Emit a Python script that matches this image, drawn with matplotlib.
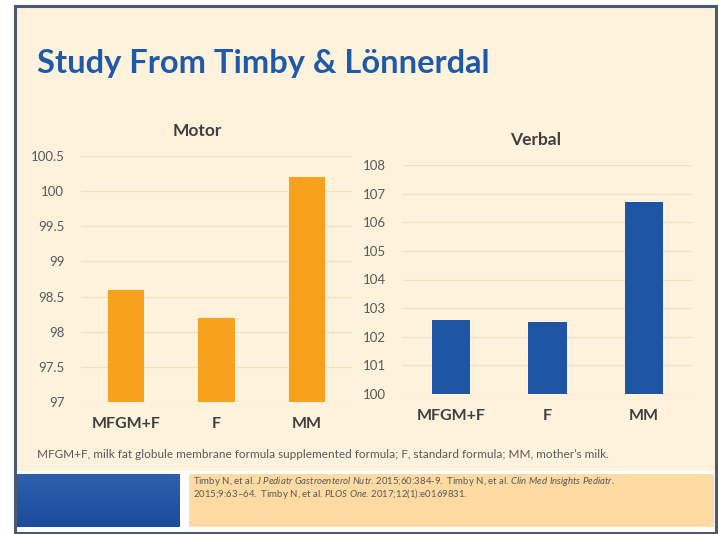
import matplotlib.pyplot as plt
from matplotlib.patches import Rectangle
from matplotlib.colors import LinearSegmentedColormap
import numpy as np

categories = ["MFGM+F", "F", "MM"]
motor_scores = [98.6, 98.2, 100.2]
verbal_scores = [102.6, 102.5, 106.7]
motor_ticks = [97, 97.5, 98, 98.5, 99, 99.5, 100, 100.5]
verbal_ticks = [100, 101, 102, 103, 104, 105, 106, 107, 108]

SLIDE_BG = "#FEF2DC"
FOOT_BG = "#FDDBA2"
ORANGE = "#F7A11C"
BLUE = "#1F56A3"
TITLE_BLUE = "#1F5AA8"
TEXT_GRAY = "#595959"
LABEL_DARK = "#404040"
GRID = "#EFE1C4"
FONT = ["Lato", "DejaVu Sans"]

plt.rcParams["mathtext.fontset"] = "custom"
plt.rcParams["mathtext.it"] = "Lato:italic"
plt.rcParams["mathtext.rm"] = "Lato"

W, H = 718, 534
fig = plt.figure(figsize=(W / 100, H / 100), dpi=100, facecolor="white")


def px_box(x0, y0, x1, y1):
    """pixel box (top-left origin) -> figure fraction [l, b, w, h]"""
    return [x0 / W, (H - y1) / H, (x1 - x0) / W, (y1 - y0) / H]


bg = fig.add_axes([0, 0, 1, 1])
bg.set_xlim(0, W)
bg.set_ylim(H, 0)
bg.axis("off")

# slide body, footer strip and frame
bg.add_patch(Rectangle((14, 6), 701, 465, facecolor=SLIDE_BG, edgecolor="none"))
bg.add_patch(Rectangle((14, 471), 701, 61, facecolor="white", edgecolor="none"))
grad = np.linspace(0, 1, 64).reshape(-1, 1)
bg.imshow(grad, extent=(16, 180, 527, 474),
          cmap=LinearSegmentedColormap.from_list("footblue", ["#2E60AE", "#1B4C9C"]),
          aspect="auto", zorder=1)
bg.add_patch(Rectangle((189, 474), 525, 53, facecolor=FOOT_BG, edgecolor="none"))
bg.add_patch(Rectangle((14.5, 6), 701, 526.5, facecolor="none", edgecolor="#4B5A70", linewidth=2.2))

bg.text(37, 63, "Study From Timby & Lönnerdal", fontsize=23.5, fontweight="bold",
        color=TITLE_BLUE, family=FONT, va="center", ha="left")

bg.text(37, 455, "MFGM+F, milk fat globule membrane formula supplemented formula; F, standard formula; MM, mother\u2019s milk.",
        fontsize=8.5, color=TEXT_GRAY, family=FONT, va="center", ha="left")

bg.text(193, 481, "Timby N, et al. $J\\ Pediatr\\ Gastroenterol\\ Nutr$. 2015;60:384-9.  Timby N, et al. "
        "$Clin\\ Med\\ Insights\\ Pediatr$.",
        fontsize=6.9, color=TEXT_GRAY, family=FONT, va="center", ha="left")
bg.text(193, 494, "2015;9:63\u201364.  Timby N, et al. $PLOS\\ One$. 2017;12(1):e0169831.",
        fontsize=6.9, color=TEXT_GRAY, family=FONT, va="center", ha="left")

# chart titles sit centred over the whole chart block, tick labels included
bg.text(197, 131, "Motor", family=FONT, fontsize=12.5, fontweight="bold",
        color=LABEL_DARK, ha="center", va="center")
bg.text(536, 140, "Verbal", family=FONT, fontsize=12.5, fontweight="bold",
        color=LABEL_DARK, ha="center", va="center")


def bar_panel(box, values, ticks, color, label_pad):
    ax = fig.add_axes(px_box(*box))
    ax.set_facecolor("none")
    x = np.arange(len(categories))
    ax.bar(x, values, width=0.4, color=color, zorder=2)
    ax.set_xlim(-0.5, len(categories) - 0.5)
    ax.set_ylim(ticks[0], ticks[-1])
    ax.set_yticks(ticks)
    ax.set_yticklabels([f"{t:g}" for t in ticks], family=FONT, fontsize=9.5, color=TEXT_GRAY)
    ax.set_xticks(x)
    ax.set_xticklabels(categories, family=FONT, fontsize=11.5, fontweight="bold", color=LABEL_DARK)
    ax.tick_params(axis="both", length=0)
    ax.tick_params(axis="y", pad=12)
    ax.tick_params(axis="x", pad=label_pad)
    ax.grid(axis="y", color=GRID, linewidth=0.9, zorder=0)
    for s in ax.spines.values():
        s.set_visible(False)
    return ax


bar_panel((81, 156, 352, 402), motor_scores, motor_ticks, ORANGE, 11)
bar_panel((403, 165, 692, 394), verbal_scores, verbal_ticks, BLUE, 11)

fig.savefig("out.png", dpi=100, facecolor="white")
